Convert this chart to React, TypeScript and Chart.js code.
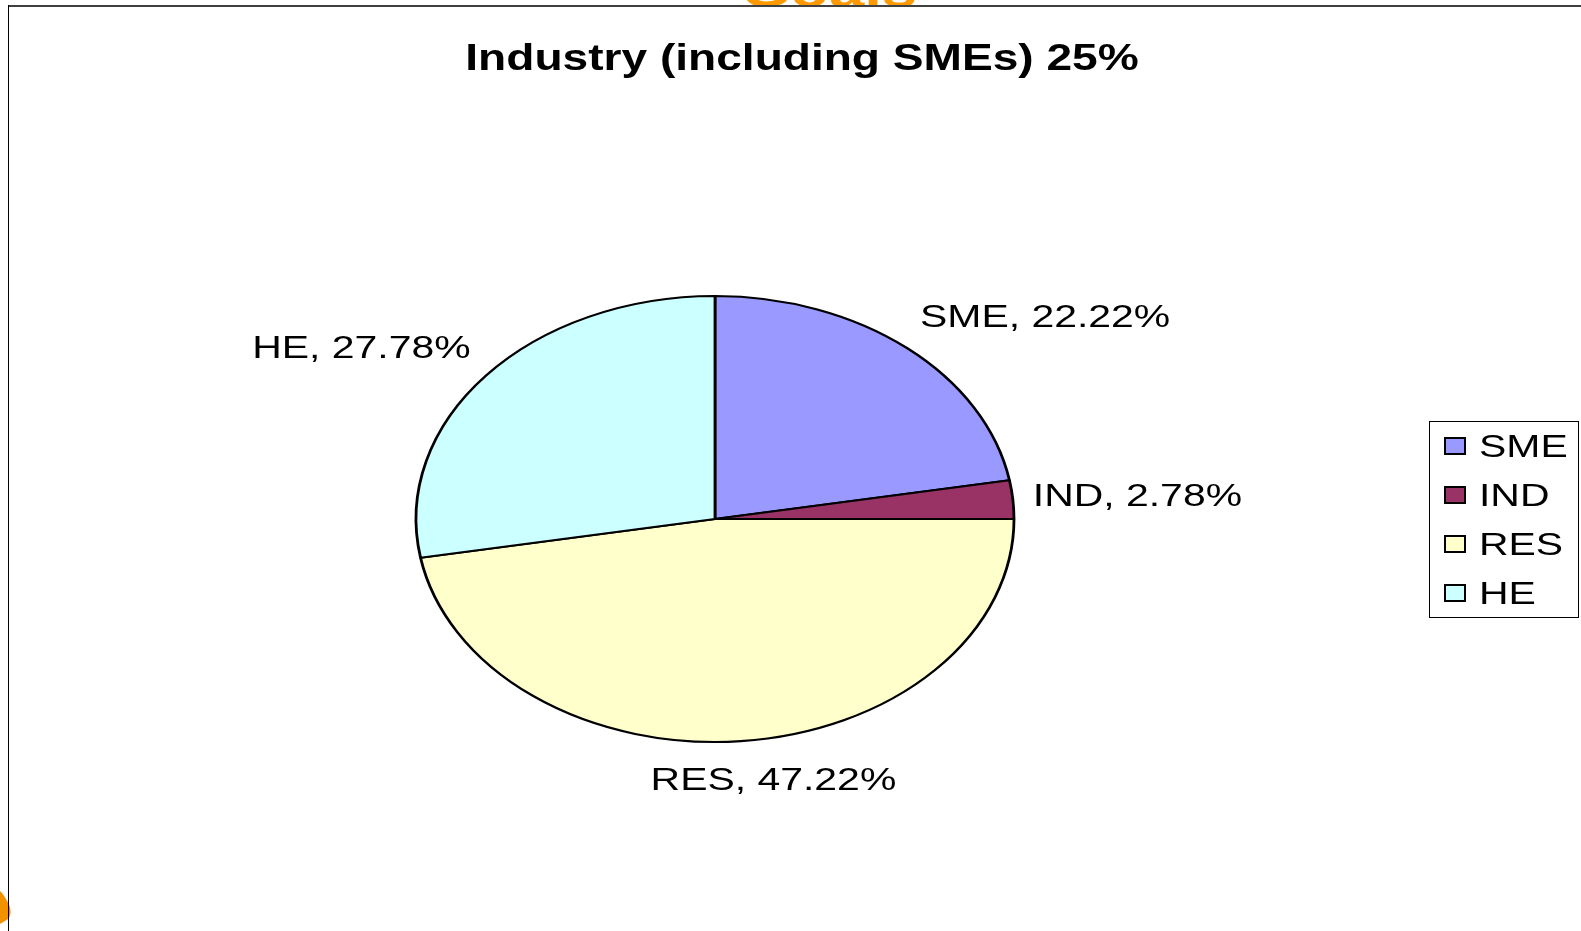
import React, { useEffect, useRef } from "react";
import { Chart, registerables } from "chart.js";

Chart.register(...registerables);

// ---- data ----
const categories: string[] = ["SME", "IND", "RES", "HE"];
const shares: number[] = [22.22, 2.78, 47.22, 27.78];
const sliceColors: string[] = ["#9999FF", "#993366", "#FFFFCC", "#CCFFFF"];
const chartTitle = "Industry (including SMEs) 25%";
const headerWord = "Goals";

// ---- styling ----
const W = 1581;
const H = 931;
const SX = 1.32; // horizontal stretch of the original picture
const KY = 223 / 299; // vertical squash of the pie (ellipse)
const FONT = '"Liberation Sans", Arial, Helvetica, sans-serif';
const LABEL_SIZE = 31;
const TITLE_SIZE = 36;
const PAD_X = 20;
const PAD_Y = 27;

const clamp1 = (v: number) => Math.max(-1, Math.min(1, v));

function drawStretched(
  ctx: CanvasRenderingContext2D,
  text: string,
  x: number,
  baseline: number,
  align: CanvasTextAlign,
  sx: number = SX
) {
  ctx.save();
  ctx.translate(x, baseline);
  ctx.scale(sx, 1);
  ctx.textAlign = align;
  ctx.textBaseline = "alphabetic";
  ctx.fillText(text, 0, 0);
  ctx.restore();
}

const ellipsePlugin = {
  id: "ellipsePie",
  beforeDatasetsDraw(chart: any) {
    const arc = chart.getDatasetMeta(0).data[0];
    const ctx = chart.ctx as CanvasRenderingContext2D;
    ctx.save();
    ctx.translate(arc.x, arc.y);
    ctx.scale(1, KY);
    ctx.translate(-arc.x, -arc.y);
  },
  afterDatasetsDraw(chart: any) {
    chart.ctx.restore();
  },
  afterDraw(chart: any) {
    const ctx = chart.ctx as CanvasRenderingContext2D;
    const meta = chart.getDatasetMeta(0);
    const labels: string[] = chart.data.labels;
    const values: number[] = chart.data.datasets[0].data;
    const colors: string[] = chart.data.datasets[0].backgroundColor;

    // title
    ctx.fillStyle = "#000";
    ctx.font = `bold ${TITLE_SIZE}px ${FONT}`;
    const titleCap = TITLE_SIZE * 0.716;
    drawStretched(ctx, chartTitle, 802, 57.5 + titleCap / 2, "center", 1.28);

    // slice labels
    ctx.font = `${LABEL_SIZE}px ${FONT}`;
    const capH = LABEL_SIZE * 0.716;
    meta.data.forEach((el: any, i: number) => {
      const { x, y, startAngle, endAngle, outerRadius } = el.getProps(
        ["x", "y", "startAngle", "endAngle", "outerRadius"],
        true
      );
      const mid = (startAngle + endAngle) / 2;
      const ux = Math.cos(mid);
      const uy = Math.sin(mid);
      const ex = x + ux * outerRadius;
      const ey = y + uy * outerRadius * KY;
      const ax = ex + ux * PAD_X;
      const ay = ey + uy * PAD_Y;
      const text = `${labels[i]}, ${values[i].toFixed(2)}%`;
      const w = ctx.measureText(text).width * SX;
      const bx = ax + clamp1(ux / 0.35) * (w / 2);
      const by = ay + clamp1(uy / 0.35) * (capH / 2);
      drawStretched(ctx, text, bx, by + capH / 2, "center");
    });

    // legend
    const lx = 1429;
    const ly = 421;
    const lw = 150;
    const lh = 197;
    ctx.save();
    ctx.strokeStyle = "#000";
    ctx.lineWidth = 1;
    ctx.strokeRect(lx + 0.5, ly + 0.5, lw - 1, lh - 1);
    ctx.restore();
    labels.forEach((lab, i) => {
      const cy = 446 + i * 49;
      ctx.save();
      ctx.fillStyle = colors[i];
      ctx.fillRect(1445, cy - 8, 20, 16);
      ctx.strokeStyle = "#000";
      ctx.lineWidth = 2;
      ctx.strokeRect(1445, cy - 8, 20, 16);
      ctx.restore();
      ctx.fillStyle = "#000";
      ctx.font = `${LABEL_SIZE}px ${FONT}`;
      drawStretched(ctx, lab, 1479, cy + capH / 2, "left");
    });
  },
};

export default function App() {
  const canvasRef = useRef<HTMLCanvasElement | null>(null);

  useEffect(() => {
    const canvas = canvasRef.current;
    if (!canvas) return;
    const chart = new Chart(canvas, {
      type: "pie",
      data: {
        labels: categories,
        datasets: [
          {
            data: shares,
            backgroundColor: sliceColors,
            borderColor: "#000000",
            borderWidth: 2.8,
            radius: 299,
            clip: false,
          } as any,
        ],
      },
      options: {
        animation: false,
        responsive: false,
        events: [],
        rotation: 0,
        layout: { padding: { left: 300, right: 451, top: 200, bottom: 93 } },
        plugins: {
          legend: { display: false },
          title: { display: false },
          tooltip: { enabled: false },
        },
      },
      plugins: [ellipsePlugin],
    });
    return () => chart.destroy();
  }, []);

  return (
    <div
      style={{
        position: "fixed",
        left: 0,
        top: 0,
        width: W,
        height: H,
        background: "#fff",
        overflow: "hidden",
      }}
    >
      {/* cut-off header word */}
      <div
        style={{
          position: "absolute",
          left: 700,
          top: 0,
          width: 260,
          height: 5,
          overflow: "hidden",
        }}
      >
        <div
          style={{
            position: "absolute",
            left: 41,
            bottom: -10,
            fontFamily: FONT,
            fontWeight: "bold",
            fontSize: 48,
            lineHeight: "48px",
            color: "#FF9900",
            transform: "scaleX(1.32)",
            transformOrigin: "left bottom",
            whiteSpace: "nowrap",
          }}
        >
          {headerWord}
        </div>
      </div>
      {/* orange swoosh bottom-left */}
      <div
        style={{
          position: "absolute",
          left: -18,
          top: 888,
          width: 26,
          height: 36,
          borderRadius: "40%",
          background: "#F29200",
          transform: "rotate(-30deg)",
        }}
      />
      {/* frame */}
      <div style={{ position: "absolute", left: 8, top: 5, width: W - 8, height: 2, background: "#404040" }} />
      <div style={{ position: "absolute", left: 8, top: 5, width: 1, height: H - 5, background: "#000" }} />
      <canvas
        ref={canvasRef}
        width={W}
        height={H}
        style={{ position: "absolute", left: 0, top: 0, width: W, height: H }}
      />
    </div>
  );
}
